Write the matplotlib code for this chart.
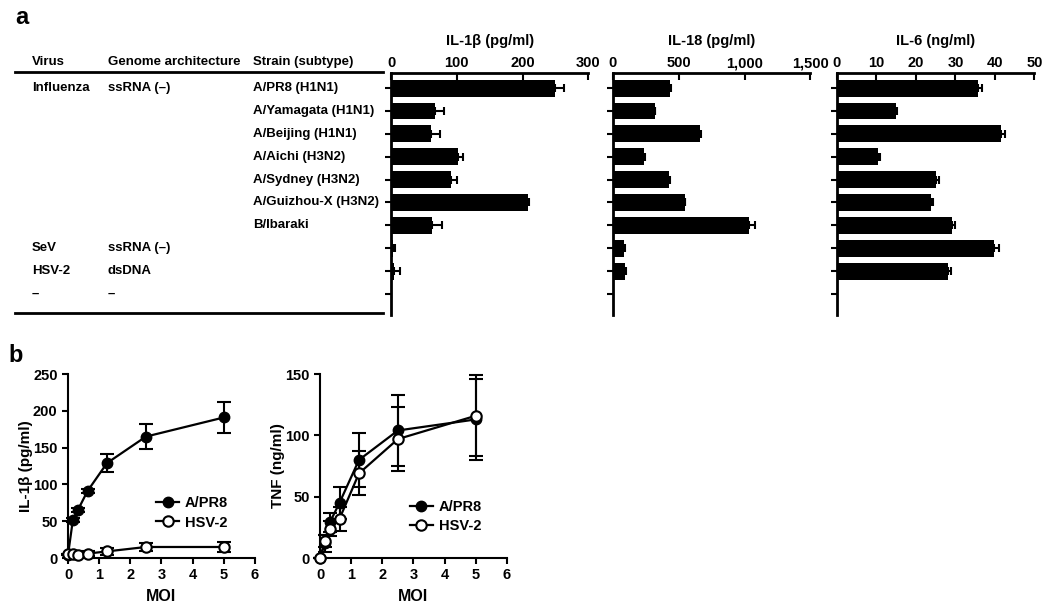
import numpy as np
import matplotlib
matplotlib.use("Agg")
from matplotlib import pyplot as plt
from matplotlib import transforms
from matplotlib.lines import Line2D

plt.rcParams['font.family'] = ['Liberation Sans', 'DejaVu Sans']
plt.rcParams['font.weight'] = 'bold'
plt.rcParams['axes.labelweight'] = 'bold'

# panel a data
virus = ["Influenza", "", "", "", "", "", "", "SeV", "HSV-2", "–"]
genome = ["ssRNA (–)", "", "", "", "", "", "", "ssRNA (–)", "dsDNA", "–"]
strain = ["A/PR8 (H1N1)", "A/Yamagata (H1N1)", "A/Beijing (H1N1)", "A/Aichi (H3N2)",
          "A/Sydney (H3N2)", "A/Guizhou-X (H3N2)", "B/Ibaraki", "", "", ""]
il1b = [249, 67, 60, 102, 91, 208, 62, 2.5, 5, 0]
il1b_err = [14, 13, 14, 8, 10, 2, 15, 4, 9, 0]
il18 = [432, 319, 663, 239, 427, 545, 1035, 85, 93, 0]
il18_err = [10, 3, 8, 3, 5, 5, 43, 3, 3, 0]
il6 = [35.6, 14.9, 41.5, 10.5, 25.2, 23.9, 29.1, 39.8, 28.1, 0]
il6_err = [1.2, 0.2, 1.1, 0.3, 0.6, 0.5, 0.8, 1.2, 0.7, 0]

# panel b data
moi = [0, 0.156, 0.3125, 0.625, 1.25, 2.5, 5]
il1b_pr8 = [4.5, 52, 65, 91, 129, 165, 191]
il1b_pr8_err = [1, 3, 3, 3, 12, 17, 21]
il1b_hsv = [5, 5, 4, 6, 9, 15, 15]
il1b_hsv_err = [1, 1, 1, 3, 5, 6, 7]
tnf_pr8 = [0, 12, 29, 45, 80, 104, 113]
tnf_pr8_err = [0, 7, 8, 13, 22, 29, 33]
tnf_hsv = [0, 14, 24, 32, 69, 97, 116]
tnf_hsv_err = [0, 5, 6, 10, 18, 26, 33]

fig = plt.figure(figsize=(10.5, 6.1), dpi=100)

rows = np.arange(len(strain))
bar_panels = [
    (0.3724, il1b, il1b_err, 300, [0, 100, 200, 300], ["0", "100", "200", "300"], "IL-1β (pg/ml)"),
    (0.5838, il18, il18_err, 1500, [0, 500, 1000, 1500], ["0", "500", "1,000", "1,500"], "IL-18 (pg/ml)"),
    (0.7971, il6, il6_err, 50, [0, 10, 20, 30, 40, 50], ["0", "10", "20", "30", "40", "50"], "IL-6 (ng/ml)"),
]
axes_a = []
for left, vals, err, xmax, ticks, labels, title in bar_panels:
    ax = fig.add_axes([left, 0.4836, 0.188, 0.3967])
    ax.barh(rows, vals, height=0.74, color="black",
            xerr=[np.zeros(len(err)), err], capsize=3,
            error_kw=dict(ecolor="black", elinewidth=1.5, capthick=1.5))
    ax.set_xlim(0, xmax)
    ax.set_ylim(9.92, -0.66)
    ax.xaxis.tick_top()
    ax.set_xticks(ticks)
    ax.set_xticklabels(labels, fontsize=10.5, fontweight="bold")
    ax.set_yticks(rows)
    ax.set_yticklabels([])
    ax.tick_params(axis="x", direction="in", length=5, width=1.5, pad=2)
    ax.tick_params(axis="y", direction="out", length=4, width=1.5)
    ax.spines["right"].set_visible(False)
    ax.spines["bottom"].set_visible(False)
    ax.spines["top"].set_linewidth(2)
    ax.spines["left"].set_linewidth(2)
    ax.set_title(title, fontsize=10.5, fontweight="bold", pad=20)
    axes_a.append(ax)

# table text
trans = transforms.blended_transform_factory(fig.transFigure, axes_a[0].transData)
for i in rows:
    fig.text(32 / 1050, i, virus[i], transform=trans, va="center", fontsize=9.5)
    fig.text(108 / 1050, i, genome[i], transform=trans, va="center", fontsize=9.5)
    fig.text(253 / 1050, i, strain[i], transform=trans, va="center", fontsize=9.5)
for x, s in [(32, "Virus"), (108, "Genome architecture"), (253, "Strain (subtype)")]:
    fig.text(x / 1050, 1 - 62 / 610, s, va="center", fontsize=9.5)
for y in [72, 313]:
    fig.add_artist(Line2D([15 / 1050, 383 / 1050], [1 - y / 610, 1 - y / 610],
                          transform=fig.transFigure, color="black", linewidth=2))

fig.text(15 / 1050, 1 - 18 / 610, "a", fontsize=17, fontweight="bold", va="center")
fig.text(8 / 1050, 1 - 355 / 610, "b", fontsize=17, fontweight="bold", va="center")

# panel b
line_panels = [
    (0.0648, il1b_pr8, il1b_pr8_err, il1b_hsv, il1b_hsv_err, 250, [0, 50, 100, 150, 200, 250],
     "IL-1β (pg/ml)", (0.47, 0.155)),
    (0.3048, tnf_pr8, tnf_pr8_err, tnf_hsv, tnf_hsv_err, 150, [0, 50, 100, 150],
     "TNF (ng/ml)", (0.48, 0.135)),
]
for left, pr8, pr8_err, hsv, hsv_err, ymax, yticks, ylabel, leg_pos in line_panels:
    ax = fig.add_axes([left, 0.0852, 0.178, 0.3016])
    ax.errorbar(moi, pr8, yerr=pr8_err, color="black", marker="o", markersize=7.5,
                markerfacecolor="black", linewidth=1.6, capsize=5, capthick=1.5,
                elinewidth=1.5, label="A/PR8", clip_on=False, zorder=3)
    ax.errorbar(moi, hsv, yerr=hsv_err, color="black", marker="o", markersize=7.5,
                markerfacecolor="white", markeredgewidth=1.5, linewidth=1.6, capsize=5,
                capthick=1.5, elinewidth=1.5, label="HSV-2", clip_on=False, zorder=4)
    ax.set_xlim(0, 6)
    ax.set_ylim(0, ymax)
    ax.set_xticks(range(7))
    ax.set_yticks(yticks)
    ax.tick_params(direction="out", length=4, width=1.5, labelsize=10.5)
    for lab in ax.get_xticklabels() + ax.get_yticklabels():
        lab.set_fontweight("bold")
    ax.spines["right"].set_visible(False)
    ax.spines["top"].set_visible(False)
    ax.spines["left"].set_linewidth(1.5)
    ax.spines["bottom"].set_linewidth(1.5)
    ax.set_xlabel("MOI", fontsize=11.5, fontweight="bold", labelpad=5)
    ax.set_ylabel(ylabel, fontsize=11, fontweight="bold")
    ax.yaxis.set_label_coords(-0.185, 0.5)
    handles, labels = ax.get_legend_handles_labels()
    handles = [h[0] for h in handles]
    ax.legend(handles, labels, loc="lower left", bbox_to_anchor=leg_pos, frameon=False,
              fontsize=10.5, handlelength=1.6, handletextpad=0.4, labelspacing=0.35,
              borderpad=0, borderaxespad=0)

plt.savefig("out.png", dpi=100)
